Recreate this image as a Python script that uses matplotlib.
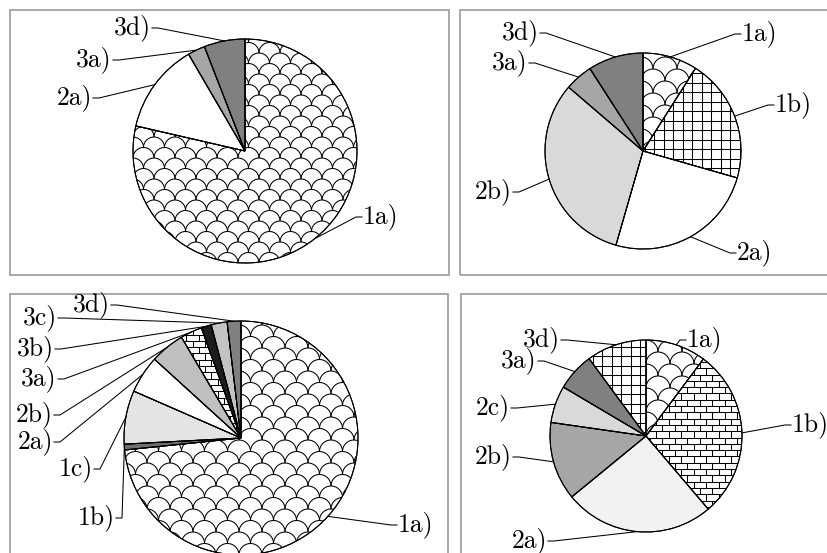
import numpy as np
import matplotlib.pyplot as plt
from matplotlib.patches import Wedge, Rectangle
from matplotlib.collections import LineCollection

plt.rcParams['font.family'] = ['cmr10', 'DejaVu Serif']

# shares (percent), clockwise from 12 o'clock
labels_a = ['1a)', '2a)', '3a)', '3d)']
shares_a = [78.6, 13.0, 2.5, 5.9]

labels_b = ['1a)', '1b)', '2a)', '2b)', '3a)', '3d)']
shares_b = [9.0, 20.4, 25.0, 31.8, 4.6, 9.1]

labels_c = ['1a)', '1b)', '1c)', '2a)', '2b)', '3a)', '3b)', '3c)', '3d)']
shares_c = [73.4, 0.8, 7.4, 5.2, 4.75, 3.0, 1.4, 2.2, 1.9]

labels_d = ['1a)', '1b)', '2a)', '2b)', '2c)', '3a)', '3d)']
shares_d = [10.2, 28.6, 25.3, 13.2, 6.25, 6.4, 10.1]

W, H = 828, 553


def Y(y):
    return H - y


# fills: a colour or the name of a drawn pattern
fills_a = ['scales', 'white', '#a6a6a6', '#808080']
fills_b = ['scales', 'grid', 'white', '#d9d9d9', '#a6a6a6', '#808080']
fills_c = ['scales', '#6e6e6e', '#e4e4e4', 'white', '#bfbfbf', 'bricks',
           '#1c1c1c', '#c4c4c4', '#808080']
fills_d = ['scales', 'bricks', '#f2f2f2', '#a6a6a6', '#d9d9d9', '#808080', 'grid']

# label anchor (x, y in image pixels) and which side the text sits on
pos_a = {'1a)': (362, 217, 'R'), '2a)': (93, 98, 'L'),
         '3a)': (113, 60, 'L'), '3d)': (152, 28, 'L')}
pos_b = {'1a)': (741, 34, 'R'), '1b)': (774, 105, 'R'), '2a)': (736, 253, 'R'),
         '2b)': (513, 192, 'L'), '3a)': (529, 63, 'L'), '3d)': (540, 33, 'L')}
pos_c = {'1a)': (397, 525, 'R'), '1b)': (116, 518, 'L'), '1c)': (94, 469, 'L'),
         '2a)': (54, 442, 'L'), '2b)': (54, 415, 'L'), '3a)': (58, 379, 'L'),
         '3b)': (55, 349, 'L'), '3c)': (58, 318, 'L'), '3d)': (111, 305, 'L')}
pos_d = {'1a)': (686, 340, 'R'), '1b)': (791, 425, 'R'), '2a)': (548, 541, 'L'),
         '2b)': (513, 457, 'L'), '2c)': (511, 408, 'L'), '3a)': (538, 361, 'L'),
         '3d)': (561, 340, 'L')}

fig = plt.figure(figsize=(8.28, 5.53), dpi=100)
ax = fig.add_axes([0, 0, 1, 1])


def add_pattern(w, kind, R):
    cx, cy = w.center
    r = w.r
    segs = []
    if kind == 'scales':
        t = np.linspace(0, np.pi, 24)
        n = int(2 * r / R) + 4
        for i in range(n):
            y0 = cy - r - R + i * R
            off = (i % 2) * R
            for x0 in np.arange(cx - r - 2 * R + off, cx + r + 2 * R, 2 * R):
                segs.append(np.column_stack([x0 + R * np.cos(t), y0 + R * np.sin(t)]))
    elif kind == 'grid':
        s = 9.5
        for v in np.arange(cx - r - s / 2, cx + r + s, s):
            segs.append([(v, cy - r), (v, cy + r)])
        for v in np.arange(cy - r - s / 2, cy + r + s, s):
            segs.append([(cx - r, v), (cx + r, v)])
    elif kind == 'bricks':
        bh, bw = 6.3, 12.5
        rows = np.arange(cy - r, cy + r + bh, bh)
        for k, v in enumerate(rows):
            segs.append([(cx - r, v), (cx + r, v)])
            off = (k % 2) * bw / 2
            for u in np.arange(cx - r - bw + off, cx + r + bw, bw):
                segs.append([(u, v), (u, v + bh)])
    lc = LineCollection(segs, colors='k', linewidths=0.75, zorder=2)
    ax.add_collection(lc)
    lc.set_clip_path(w)


def draw_panel(labels, shares, fills, pos, center, r, R):
    c = (center[0], Y(center[1]))
    faces = [f if f.startswith('#') or f == 'white' else 'white' for f in fills]
    wedges, _ = ax.pie(shares, colors=faces, startangle=90, counterclock=False,
                       center=c, radius=r, frame=True,
                       wedgeprops=dict(edgecolor='k', linewidth=0.75))
    for w, f, lab in zip(wedges, fills, labels):
        if f in ('scales', 'grid', 'bricks'):
            add_pattern(w, f, R)
        ax.add_patch(Wedge(w.center, w.r, w.theta1, w.theta2, fill=False,
                           edgecolor='k', linewidth=0.75, zorder=3))
        m = np.deg2rad((w.theta1 + w.theta2) / 2)
        ex, ey = c[0] + r * np.cos(m), c[1] + r * np.sin(m)
        tx, ty, side = pos[lab]
        d = 6 if side == 'L' else -6
        ax.plot([tx, tx + d, ex], [Y(ty), Y(ty), ey], color='k', lw=0.75, zorder=4)
        ax.text(tx - 1 if side == 'L' else tx + 1, Y(ty), lab,
                ha='right' if side == 'L' else 'left', va='center',
                fontsize=18.5, zorder=5)


draw_panel(labels_a, shares_a, fills_a, pos_a, (245, 151), 112, 10.5)
draw_panel(labels_b, shares_b, fills_b, pos_b, (643, 151), 98, 12)
draw_panel(labels_c, shares_c, fills_c, pos_c, (241, 438), 117, 11.5)
draw_panel(labels_d, shares_d, fills_d, pos_d, (646, 436), 96, 12)

# panel frames
for x0, y0, x1, y1 in [(10, 10, 449, 275), (460, 10, 840, 275),
                       (10, 294, 448, 570), (461, 294, 840, 570)]:
    ax.add_patch(Rectangle((x0, Y(y1)), x1 - x0, y1 - y0, fill=False,
                           edgecolor='#9a9a9a', linewidth=1.2, zorder=0))

ax.set_xlim(0, W)
ax.set_ylim(0, H)
ax.set_aspect('equal', adjustable='box')
ax.axis('off')

fig.savefig('out.png', dpi=100)
